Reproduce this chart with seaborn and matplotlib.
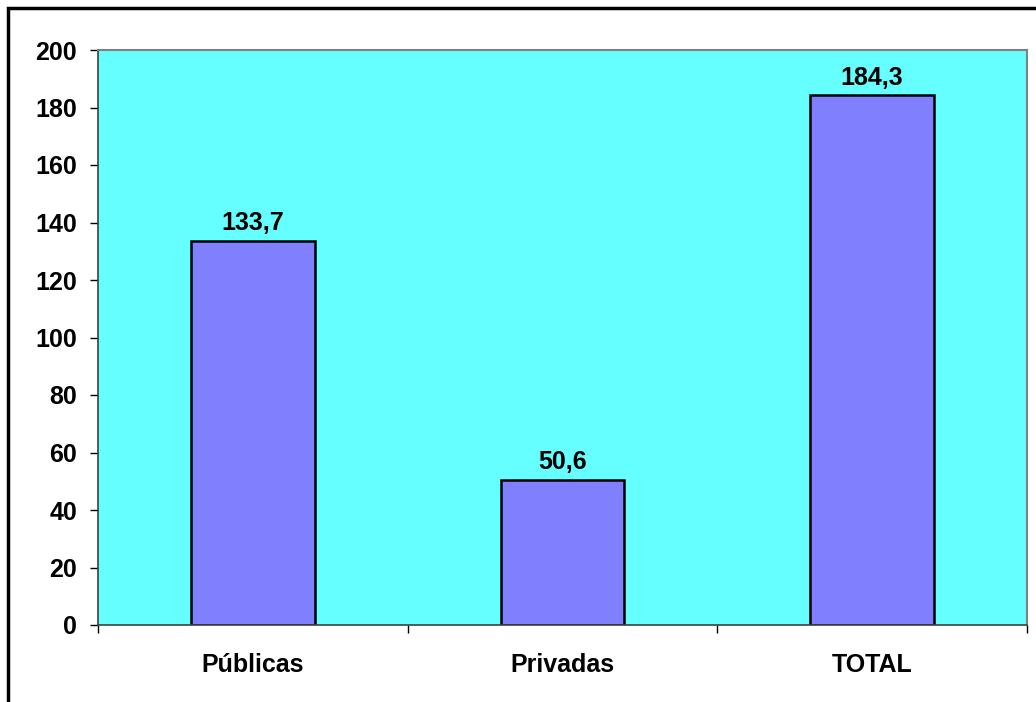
import pandas as pd
import numpy as np
import matplotlib
matplotlib.use("Agg")
import matplotlib.pyplot as plt
import seaborn as sns
from matplotlib.patches import Rectangle

categorias = ['Públicas', 'Privadas', 'TOTAL']
valores = [133.7, 50.6, 184.3]
y_ticks = list(range(0, 201, 20))

df = pd.DataFrame({'categoria': categorias, 'valor': valores})

sns.set_style("white")
plt.rcParams['font.family'] = ['Liberation Sans', 'DejaVu Sans']
plt.rcParams['font.weight'] = 'bold'
plt.rcParams['text.color'] = 'black'
plt.rcParams['ytick.color'] = 'black'
plt.rcParams['xtick.color'] = 'black'

fig = plt.figure(figsize=(10.36, 7.02), dpi=100)
ax = fig.add_axes([98 / 1036, 1 - 625 / 702, 929 / 1036, 575 / 702])
ax.set_facecolor('#66FFFF')

sns.barplot(data=df, x='categoria', y='valor', color='#8080FF', saturation=1,
            width=0.4, edgecolor='black', linewidth=1.8, ax=ax)

ax.set_xlim(-0.5, 2.5)
ax.set_ylim(0, 200)
ax.set_yticks(y_ticks)
ax.set_yticklabels([str(t) for t in y_ticks], fontsize=18, fontweight='bold',
                   color='black')

# category labels centred, tick marks at category boundaries
ax.set_xticks([-0.5, 0.5, 1.5, 2.5])
ax.set_xticklabels([])
for i, c in enumerate(categorias):
    ax.text(i, -13.9, c, ha='center', va='center', fontsize=18,
            fontweight='bold', color='black')

ax.tick_params(axis='both', direction='out', length=6, width=1, color='black',
               left=True, bottom=True, pad=9)

for side in ['top', 'right']:
    ax.spines[side].set_color('#808080')
    ax.spines[side].set_linewidth(1.5)
ax.spines['left'].set_color('#404040')
ax.spines['bottom'].set_color('#404040')
ax.spines['left'].set_linewidth(1.2)
ax.spines['bottom'].set_linewidth(1.2)

for i, v in enumerate(valores):
    ax.text(i, v + 1.8, f"{v:.1f}".replace('.', ','), ha='center', va='bottom',
            fontsize=18, fontweight='bold', color='black')

ax.set_xlabel('')
ax.set_ylabel('')

# outer chart border (cropped on the right and bottom)
fig.patches.append(Rectangle((8 / 1036, -0.1), 1.2, 1 - 8 / 702 + 0.1,
                             transform=fig.transFigure, fill=False,
                             edgecolor='black', linewidth=2.5))

fig.savefig('out.png', dpi=100)
